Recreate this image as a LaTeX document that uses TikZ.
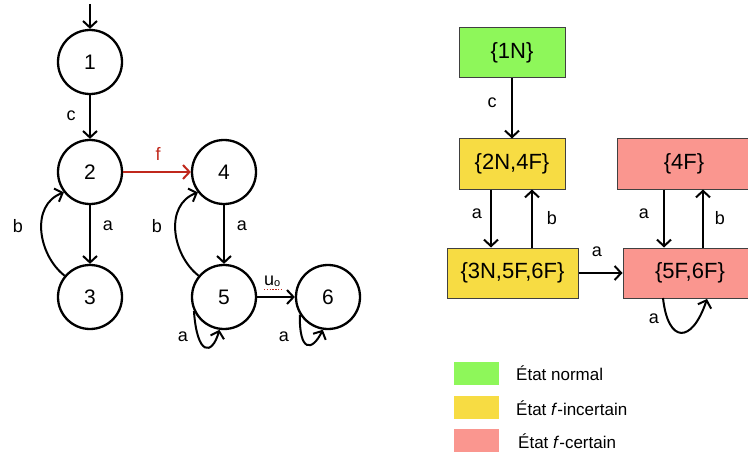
\documentclass[tikz,border=0pt]{standalone}
\usepackage{fontspec}
\setmainfont{Liberation Sans}
\usetikzlibrary{arrows.meta}
\definecolor{cgreen}{HTML}{8EF75A}
\definecolor{cyellow}{HTML}{F7DC43}
\definecolor{cpink}{HTML}{FA968F}
\definecolor{cred}{HTML}{C0281C}
\tikzset{
  st/.style={circle,draw=black,line width=2.3pt,minimum size=64pt,inner sep=0pt,font=\fontsize{21}{21}\selectfont},
  arr/.style={-{Straight Barb[length=6.5pt,width=14pt]},line width=2pt},
  lbl/.style={font=\fontsize{18}{18}\selectfont,inner sep=0pt},
  obox/.style={rectangle,draw=black!75,line width=1pt,minimum height=50pt,inner sep=0pt,font=\fontsize{22}{22}\selectfont},
  leg/.style={rectangle,minimum width=45pt,minimum height=23pt,inner sep=0pt},
  legt/.style={anchor=west,inner sep=0pt,font=\fontsize{17}{17}\selectfont}
}
\begin{document}
\begin{tikzpicture}[x=1pt,y=-1pt]
\useasboundingbox (0,0) rectangle (748,452);
% left automaton
\node[st] (n1) at (90,62) {1};
\node[st] (n2) at (90,172) {2};
\node[st] (n4) at (224,172) {4};
\node[st] (n3) at (90,297) {3};
\node[st] (n5) at (224,297) {5};
\node[st] (n6) at (328,297) {6};
\coordinate (init) at (90,4);
\draw[arr] (init) -- (n1);
\draw[arr] (n1) -- (n2);
\node[lbl] (lc) at (71,116) {c};
\draw[arr,cred] (n2) -- (n4);
\node[lbl,text=cred] (lf) at (158,154) {f};
\draw[arr] (n2) -- (n3);
\node[lbl] (la1) at (108,226) {a};
\draw[arr] (n3.140) .. controls (38,255) and (30,205) .. (n2.218);
\node[lbl] (lb1) at (18,226) {b};
\draw[arr] (n4) -- (n5);
\node[lbl] (la2) at (242,226) {a};
\draw[arr] (n5.140) .. controls (172,255) and (164,205) .. (n4.218);
\node[lbl] (lb2) at (157,226) {b};
\draw[arr] (n5) -- (n6);
\node[lbl,anchor=south west] (lu) at (264,287) {u\raisebox{-1.5pt}{\fontsize{11}{11}\selectfont o}};
\draw[cred,line width=1.4pt,dash pattern=on 1.4pt off 1.4pt] (264,289.5) -- (282,289.5);
\draw[arr] (n5.205) .. controls (197,356) and (212,356) .. (n5.262);
\node[lbl] (la3) at (183,337) {a};
\draw[arr] (n6.212) .. controls (299,352) and (312,352) .. (n6.261);
\node[lbl] (la4) at (284,337) {a};
% right observer
\node[obox,fill=cgreen,minimum width=106pt] (b1) at (512,53) {\{1N\}};
\node[obox,fill=cyellow,minimum width=106pt] (b2) at (512,164) {\{2N,4F\}};
\node[obox,fill=cpink,minimum width=134pt] (b3) at (684,164) {\{4F\}};
\node[obox,fill=cyellow,minimum width=131pt] (b4) at (512.5,273) {\{3N,5F,6F\}};
\node[obox,fill=cpink,minimum width=134pt] (b5) at (690,273) {\{5F,6F\}};
\coordinate (xa1) at (491,0);
\coordinate (xb1) at (532,0);
\coordinate (xa2) at (664,0);
\coordinate (xb2) at (703,0);
\draw[arr] (b1) -- (b2);
\node[lbl] (rc) at (492,103) {c};
\draw[arr] (b2.south -| xa1) -- (b4.north -| xa1);
\draw[arr] (b4.north -| xb1) -- (b2.south -| xb1);
\node[lbl] (ra1) at (477,214) {a};
\node[lbl] (rb1) at (552,218) {b};
\draw[arr] (b3.south -| xa2) -- (b5.north -| xa2);
\draw[arr] (b5.north -| xb2) -- (b3.south -| xb2);
\node[lbl] (ra2) at (644,214) {a};
\node[lbl] (rb2) at (720,218) {b};
\draw[arr] (b4) -- (b5);
\node[lbl] (ra3) at (597,252) {a};
\coordinate (ls) at (663,298);
\coordinate (le) at (707,299);
\draw[arr] (ls) .. controls (668,344) and (692,344) .. (le);
\node[lbl] (ra4) at (654,319) {a};
% legend
\node[leg,fill=cgreen] (g1) at (476.5,373.5) {};
\node[leg,fill=cyellow] (g2) at (476.5,407) {};
\node[leg,fill=cpink] (g3) at (476.5,440.5) {};
\node[legt] (t1) at (516,373) {État normal};
\node[legt] (t2) at (516,408) {État \textit{f}-incertain};
\node[legt] (t3) at (518,441) {État \textit{f}-certain};
\end{tikzpicture}
\end{document}
